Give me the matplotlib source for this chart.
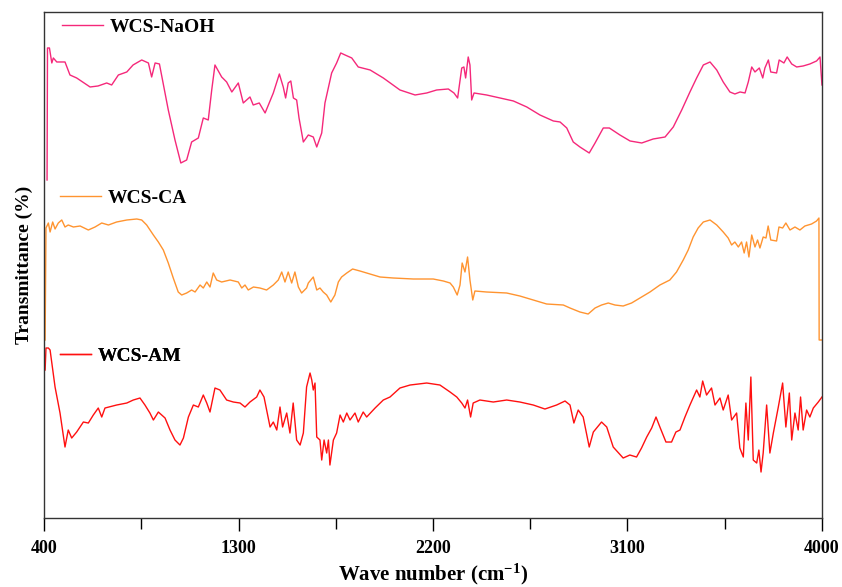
import matplotlib
matplotlib.use("Agg")
import matplotlib.pyplot as plt
from matplotlib.lines import Line2D
from matplotlib.ticker import FixedLocator

plt.rcParams['font.family'] = ['Liberation Serif', 'DejaVu Serif']
plt.rcParams['font.weight'] = 'bold'
plt.rcParams['mathtext.fontset'] = 'custom'
plt.rcParams['mathtext.rm'] = 'Liberation Serif:bold'
plt.rcParams['mathtext.default'] = 'rm'

# spectra (wavenumber, offset transmittance)
naoh_x = [414, 416, 425, 436, 443, 459, 497, 520, 551, 613, 650, 690, 713, 744, 783, 812,
          852, 883, 898, 914, 934, 975, 1006, 1033, 1060, 1083, 1114, 1137, 1160, 1176, 1191,
          1222, 1245, 1269, 1299, 1322, 1353, 1368, 1396, 1423, 1461, 1489, 1507, 1518, 1530,
          1542, 1554, 1569, 1580, 1600, 1623, 1646, 1662, 1685, 1700, 1731, 1754, 1773, 1793,
          1824, 1854, 1909, 1970, 2047, 2117, 2171, 2217, 2271, 2297, 2314, 2333, 2343, 2351,
          2363, 2371, 2379, 2390, 2448, 2510, 2572, 2634, 2695, 2757, 2788, 2819, 2849, 2880,
          2923, 2950, 2988, 3016, 3065, 3112, 3166, 3219, 3274, 3312, 3351, 3389, 3420, 3451,
          3482, 3513, 3543, 3574, 3597, 3621, 3644, 3659, 3675, 3690, 3710, 3726, 3736, 3752,
          3763, 3790, 3802, 3824, 3839, 3860, 3883, 3913, 3944, 3975, 3991, 4000]
naoh_y = [338, 470, 470, 455, 460, 456, 456, 443, 440, 431, 432, 435, 433, 443, 446, 453,
          458, 455, 441, 455, 454, 408, 378, 355, 358, 376, 380, 400, 398, 428, 453,
          441, 436, 426, 435, 415, 421, 413, 415, 405, 425, 444, 431, 420, 435,
          437, 420, 418, 400, 376, 383, 381, 371, 385, 415, 445, 455, 465, 463,
          460, 451, 448, 440, 428, 423, 425, 428, 429, 425, 420, 450, 451, 440,
          461, 453, 418, 425, 423, 420, 417, 411, 403, 397, 396, 390, 376, 371,
          365, 375, 390, 390, 383, 377, 375, 379, 381, 391, 408, 426, 440, 453,
          456, 448, 436, 426, 424, 426, 425, 436, 451, 446, 450, 440, 450, 458,
          446, 445, 458, 455, 461, 454, 451, 452, 454, 457, 461, 433]

ca_x = [405, 409, 420, 428, 440, 451, 466, 482, 497, 512, 536, 567, 605, 636, 667, 698,
        736, 783, 829, 852, 875, 906, 929, 952, 975, 998, 1021, 1037, 1060, 1083, 1099,
        1122, 1137, 1153, 1168, 1183, 1199, 1222, 1261, 1299, 1315, 1330, 1345, 1369, 1399,
        1430, 1461, 1484, 1500, 1515, 1530, 1546, 1561, 1577, 1592, 1615, 1623, 1646, 1662,
        1677, 1692, 1708, 1727, 1746, 1762, 1777, 1801, 1828, 1862, 1908, 1955, 2016, 2109,
        2201, 2248, 2279, 2294, 2312, 2325, 2335, 2348, 2360, 2371, 2384, 2394, 2448, 2541,
        2602, 2664, 2726, 2803, 2834, 2880, 2918, 2950, 2980, 3011, 3042, 3080, 3119, 3158,
        3204, 3250, 3296, 3327, 3358, 3381, 3404, 3427, 3451, 3482, 3513, 3543, 3566, 3582,
        3597, 3613, 3628, 3640, 3651, 3662, 3675, 3690, 3702, 3713, 3728, 3741, 3751, 3763,
        3790, 3801, 3818, 3833, 3852, 3875, 3898, 3921, 3952, 3975, 3986, 3987, 4000]
ca_y = [178, 290, 295, 286, 296, 289, 295, 298, 291, 293, 291, 292, 288, 291, 295, 293,
        296, 298, 299, 298, 293, 283, 276, 268, 255, 240, 226, 223, 225, 228, 226,
        233, 230, 236, 231, 245, 238, 236, 238, 236, 230, 233, 228, 231, 230,
        228, 233, 238, 246, 236, 246, 235, 246, 231, 225, 230, 235, 241, 228,
        230, 226, 223, 216, 223, 236, 241, 245, 249, 247, 244, 241, 240, 239,
        239, 237, 235, 231, 223, 233, 255, 246, 261, 238, 218, 227, 226, 225,
        222, 218, 214, 213, 210, 206, 204, 210, 213, 215, 213, 212, 215, 220,
        226, 233, 238, 246, 258, 268, 281, 290, 296, 298, 293, 286, 280, 273,
        276, 271, 276, 265, 276, 261, 283, 271, 278, 270, 281, 280, 292, 278,
        277, 291, 290, 295, 288, 291, 288, 292, 294, 297, 300, 178, 178]

am_x = [405, 409, 420, 428, 451, 474, 497, 512, 528, 551, 582, 605, 628, 651, 667, 682,
        736, 783, 813, 844, 867, 890, 906, 929, 960, 983, 1006, 1029, 1045, 1068, 1091,
        1114, 1137, 1153, 1168, 1191, 1214, 1245, 1276, 1307, 1330, 1353, 1384, 1399, 1418,
        1430, 1446, 1461, 1477, 1492, 1504, 1523, 1538, 1553, 1569, 1585, 1600, 1615, 1631,
        1639, 1646, 1654, 1662, 1677, 1685, 1696, 1708, 1716, 1723, 1739, 1754, 1770, 1785,
        1801, 1816, 1839, 1854, 1877, 1893, 1932, 1970, 2001, 2047, 2094, 2171, 2232, 2279,
        2310, 2333, 2348, 2360, 2374, 2386, 2417, 2479, 2541, 2602, 2664, 2718, 2772, 2811,
        2834, 2852, 2872, 2895, 2923, 2942, 2980, 3004, 3034, 3080, 3111, 3142, 3165, 3189,
        3212, 3232, 3250, 3278, 3304, 3324, 3343, 3366, 3389, 3420, 3435, 3448, 3466, 3489,
        3505, 3528, 3543, 3566, 3582, 3605, 3620, 3636, 3648, 3659, 3671, 3682, 3698, 3708,
        3718, 3728, 3744, 3759, 3775, 3798, 3818, 3833, 3849, 3860, 3875, 3890, 3901, 3913,
        3929, 3944, 3960, 3983, 4000]
am_y = [148, 170, 170, 168, 131, 105, 71, 88, 80, 86, 96, 95, 103, 110, 101, 110,
        113, 115, 118, 120, 113, 105, 98, 106, 100, 88, 78, 73, 80, 101, 113,
        111, 123, 115, 106, 130, 128, 118, 116, 115, 111, 116, 121, 128, 121,
        108, 91, 96, 88, 111, 91, 105, 85, 115, 78, 73, 85, 131, 145,
        138, 128, 135, 81, 78, 58, 78, 65, 78, 53, 78, 85, 103, 96,
        105, 98, 105, 96, 106, 101, 110, 118, 121, 130, 133, 135, 133, 126,
        121, 115, 110, 118, 101, 115, 118, 116, 118, 116, 113, 109, 113, 117,
        113, 95, 108, 101, 71, 86, 96, 91, 71, 60, 63, 61, 70, 81,
        90, 101, 91, 76, 76, 86, 88, 101, 113, 128, 121, 137, 123, 130,
        113, 120, 108, 123, 98, 105, 70, 61, 115, 78, 141, 58, 55, 68,
        46, 65, 113, 65, 85, 111, 135, 91, 125, 78, 105, 88, 121, 88,
        108, 101, 110, 116, 121]

labels = ['WCS-NaOH', 'WCS-CA', 'WCS-AM']
colors = ['#F5287A', '#FF9430', '#FF1010']
major_ticks = [400, 1300, 2200, 3100, 4000]
minor_ticks = [850, 1750, 2650, 3550]

fig = plt.figure(figsize=(8.42, 5.87), dpi=100)
ax = fig.add_axes([0.0523, 0.1175, 0.9239, 0.8621])

ax.plot(naoh_x, naoh_y, color=colors[0], lw=1.0)
ax.plot(ca_x, ca_y, color=colors[1], lw=1.0)
ax.plot(am_x, am_y, color=colors[2], lw=1.0)

ax.set_xlim(400, 4000)
ax.set_ylim(0, 506)
ax.set_yticks([])
ax.xaxis.set_major_locator(FixedLocator(major_ticks))
ax.xaxis.set_minor_locator(FixedLocator(minor_ticks))
ax.tick_params(axis='x', which='major', direction='out', length=9, width=1, pad=7, labelsize=13)
ax.tick_params(axis='x', which='minor', direction='out', length=8, width=1)
for s in ax.spines.values():
    s.set_linewidth(1.0)
    s.set_color('#333333')

ax.set_xlabel('Wave number (cm$^{-1}$)', fontsize=15, fontweight='bold', labelpad=3)
ax.set_ylabel('Transmittance (%)', fontsize=14, fontweight='bold', labelpad=8)

# one little legend next to each spectrum
spots = [(0.0231, 0.970, 2.1), (0.0206, 0.632, 2.1), (0.0206, 0.320, 1.6)]
for lab, col, (lx, ly, hl) in zip(labels, colors, spots):
    h = Line2D([], [], color=col, lw=1.0)
    leg = ax.legend(handles=[h], labels=[lab], loc='center left', bbox_to_anchor=(lx, ly),
                    frameon=False, borderpad=0, borderaxespad=0, handlelength=hl,
                    handletextpad=0.35, prop={'family': 'Liberation Serif', 'weight': 'bold', 'size': 14})
    ax.add_artist(leg)

fig.savefig('out.png', dpi=100)
